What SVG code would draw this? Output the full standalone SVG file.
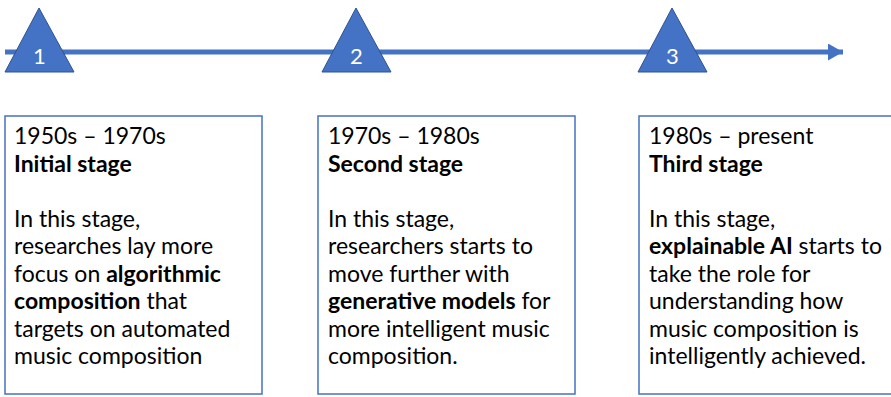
<svg xmlns="http://www.w3.org/2000/svg" width="891" height="397" viewBox="0 0 891 397">
  <style>
    .tri { fill: #4472C4; stroke: #2F528F; stroke-width: 1; }
    .num { font-family: Lato, "Open Sans", sans-serif; font-size: 22px; fill: #FFFFFF; text-anchor: middle; }
    .box { fill: #FFFFFF; stroke: #4472C4; stroke-width: 1.5; }
    .txt { font-family: Lato, "Open Sans", sans-serif; font-size: 23px; fill: #000000; }
    .b { font-weight: bold; }
  </style>
  <defs>
    <marker id="head" markerUnits="userSpaceOnUse" markerWidth="16" markerHeight="17" refX="15" refY="8.5" orient="auto">
      <path d="M0,0 L15,8.5 L0,17 Z" fill="#4472C4"/>
    </marker>
  </defs>
  <rect width="891" height="397" fill="#FFFFFF"/>

  <!-- timeline -->
  <g id="connectors">
    <line x1="5" y1="52" x2="843" y2="52" stroke="#4472C4" stroke-width="5" marker-end="url(#head)"/>
  </g>

  <!-- milestones -->
  <g id="milestone-1">
    <polygon class="tri" points="39,8 74,72 5,72"/>
    <text class="num" x="39.5" y="63.5">1</text>
  </g>
  <g id="milestone-2">
    <polygon class="tri" points="356,8 391,72 322,72"/>
    <text class="num" x="356.5" y="63.5">2</text>
  </g>
  <g id="milestone-3">
    <polygon class="tri" points="672,8 707,72 638,72"/>
    <text class="num" x="672.5" y="63.5">3</text>
  </g>

  <!-- stage descriptions -->
  <g id="stage-1">
    <rect class="box" x="5" y="116" width="257" height="278"/>
    <text class="txt" x="14">
      <tspan x="14" y="144">1950s – 1970s</tspan>
      <tspan x="14" y="171.5" class="b">Initial stage</tspan>
      <tspan x="14" y="226.5">In this stage,</tspan>
      <tspan x="14" y="254">researches lay more</tspan>
      <tspan x="14" y="281.5">focus on <tspan class="b">algorithmic</tspan></tspan>
      <tspan x="14" y="309"><tspan class="b">composition</tspan> that</tspan>
      <tspan x="14" y="336.5">targets on automated</tspan>
      <tspan x="14" y="364">music composition</tspan>
    </text>
  </g>
  <g id="stage-2">
    <rect class="box" x="318" y="116" width="257" height="278"/>
    <text class="txt" x="328">
      <tspan x="328" y="144">1970s – 1980s</tspan>
      <tspan x="328" y="171.5" class="b">Second stage</tspan>
      <tspan x="328" y="226.5">In this stage,</tspan>
      <tspan x="328" y="254">researchers starts to</tspan>
      <tspan x="328" y="281.5">move further with</tspan>
      <tspan x="328" y="309"><tspan class="b">generative models</tspan> for</tspan>
      <tspan x="328" y="336.5">more intelligent music</tspan>
      <tspan x="328" y="364">composition.</tspan>
    </text>
  </g>
  <g id="stage-3">
    <rect class="box" x="639" y="116" width="257" height="278"/>
    <text class="txt" x="649">
      <tspan x="649" y="144">1980s – present</tspan>
      <tspan x="649" y="171.5" class="b">Third stage</tspan>
      <tspan x="649" y="226.5">In this stage,</tspan>
      <tspan x="649" y="254"><tspan class="b">explainable AI</tspan> starts to</tspan>
      <tspan x="649" y="281.5">take the role for</tspan>
      <tspan x="649" y="309">understanding how</tspan>
      <tspan x="649" y="336.5">music composition is</tspan>
      <tspan x="649" y="364">intelligently achieved.</tspan>
    </text>
  </g>
</svg>
